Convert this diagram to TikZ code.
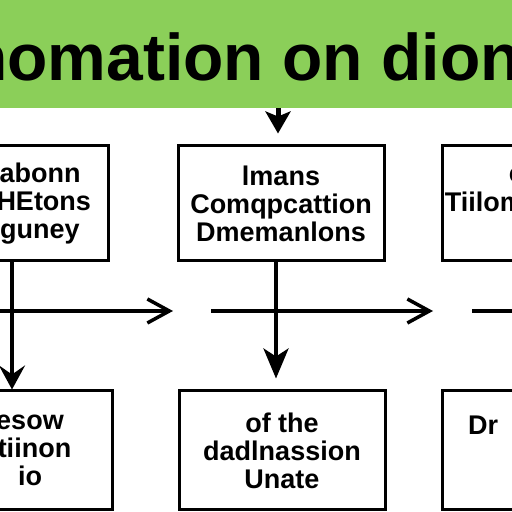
\documentclass[tikz,border=0pt]{standalone}
\usepackage{fontspec}
\setmainfont{Liberation Sans}
\usepackage{xcolor}
\usetikzlibrary{calc,arrows.meta}
\definecolor{bannergreen}{RGB}{139,207,89}

\begin{document}
\begin{tikzpicture}[x=1pt, y=1pt,
  box/.style={draw=black, line width=3pt, fill=white, inner sep=0pt, align=center, font=\fontsize{27}{28}\selectfont\bfseries},
  boxtext/.style={inner sep=0pt, font=\fontsize{27}{28}\selectfont\bfseries},
  flow/.style={black, line width=3.5pt, -{Straight Barb[length=22pt, width=24pt]}},
  down/.style={black, line width=4pt, -{Stealth[length=30pt, width=25pt, inset=8pt]}}]
  \useasboundingbox (0,0) rectangle (512,512);
  \clip (0,0) rectangle (512,512);
  \fill[white] (0,0) rectangle (512,512);
  \node[fill=bannergreen, minimum width=512pt, minimum height=108pt, inner sep=0pt] (banner) at (256,458) {};
  \node[anchor=base west, inner sep=0pt, font=\fontsize{66}{67}\selectfont\bfseries] (title) at (-33,431) {nomation on dion};
  \node[box, minimum width=136pt, minimum height=115pt] (tl) at (40,308.5) {abonn\\iHEtons\\guney};
  \node[box, minimum width=206pt, minimum height=115pt] (tm) at (281,308.5) {lmans\\Comqpcattion\\Dmemanlons};
  \node[box, minimum width=206pt, minimum height=115pt] (tr) at (545,308.5) {};
  \node[boxtext, anchor=base east] (trtop) at (524,329) {c};
  \node[boxtext, anchor=base east] (trmid) at (524,300) {Tiilom};
  \node[box, minimum width=164pt, minimum height=119pt] (bl) at (30,61.5) {esow\\ttiinon\\io};
  \node[box, minimum width=206pt, minimum height=119pt] (bm) at (282,61.5) {of the\\dadlnassion\\Unate};
  \node[box, minimum width=206pt, minimum height=119pt] (br) at (545,61.5) {};
  \node[boxtext, anchor=base west] (brtop) at (468,77) {Dr};
  \coordinate (lx) at (12,0);
  \coordinate (mx) at (276,0);
  \coordinate (tx) at (278,0);
  \coordinate (row1) at (-10,201);
  \coordinate (row1end) at (173,201);
  \coordinate (row2) at (211,201);
  \coordinate (row2end) at (433,201);
  \coordinate (row3) at (472,201);
  \coordinate (row3end) at (530,201);
  \draw[down, line width=5pt, -{Stealth[length=22pt, width=25pt, inset=5pt]}, shorten >=11pt] (banner.south -| tx) -- (tm.north -| tx);
  \draw[down, -{Stealth[length=24pt, width=26pt, inset=9pt]}] (tl.south -| lx) -- (bl.north -| lx);
  \draw[down, shorten >=11pt] (tm.south -| mx) -- (bm.north -| mx);
  \draw[flow] (row1) -- (row1end);
  \draw[flow] (row2) -- (row2end);
  \draw[black, line width=3.5pt] (row3) -- (row3end);
\end{tikzpicture}
\end{document}
